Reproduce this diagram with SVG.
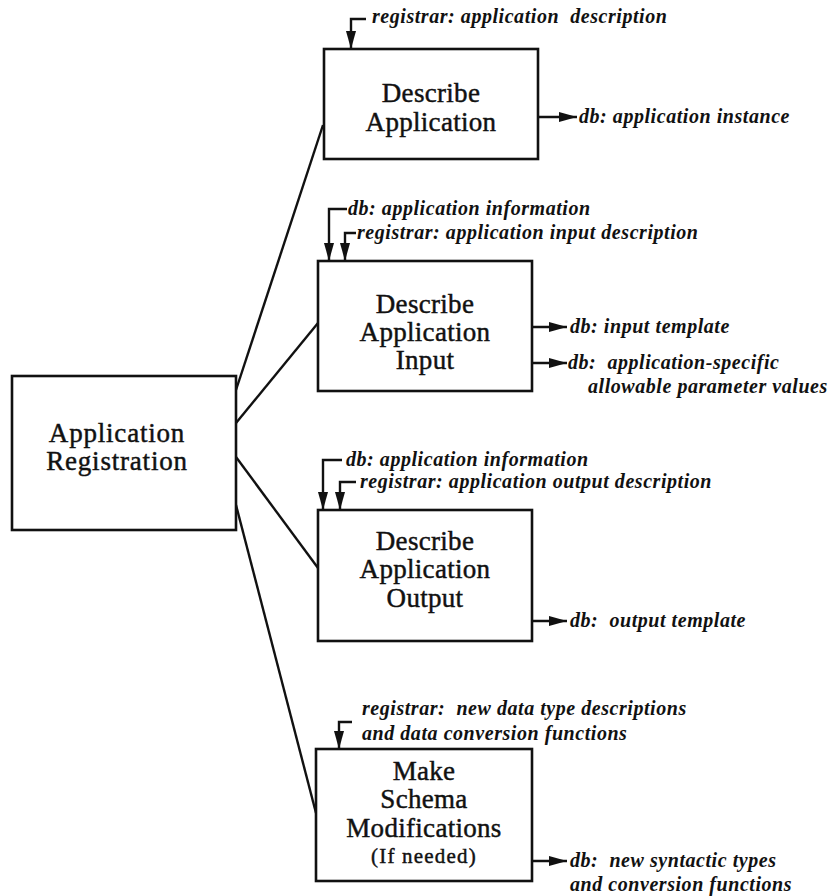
<svg xmlns="http://www.w3.org/2000/svg" width="835" height="896" viewBox="0 0 835 896">
  <style>
    .box { fill: #ffffff; stroke: #111111; stroke-width: 2.6; }
    .title { font-family: "Liberation Serif", "Times New Roman", serif; font-size: 27px; fill: #111111; stroke: #111111; stroke-width: 0.45; text-anchor: middle; letter-spacing: 0.3px; }
    .title.wide { letter-spacing: 0.8px; }
    .small { font-size: 21px; letter-spacing: 1.2px; }
    .lbl { font-family: "Liberation Serif", "Times New Roman", serif; font-style: italic; font-weight: bold; font-size: 20px; fill: #111111; letter-spacing: 0.55px; white-space: pre; }
    .wire { fill: none; stroke: #111111; stroke-width: 2.4; }
    .flow { fill: none; stroke: #111111; stroke-width: 2.4; marker-end: url(#ah); }
  </style>
  <defs>
    <marker id="ah" viewBox="0 0 18 10" refX="18" refY="5" markerWidth="18" markerHeight="10" markerUnits="userSpaceOnUse" orient="auto">
      <path d="M0,0 L18,5 L0,10 z" fill="#111111"/>
    </marker>
  </defs>
  <rect width="835" height="896" fill="#ffffff"/>

  <!-- links from the parent activity to each sub-activity -->
  <g id="connectors">
    <path class="wire" d="M236,390 L323,125"/>
    <path class="wire" d="M236,423 L318,323"/>
    <path class="wire" d="M236,457 L318,568"/>
    <path class="wire" d="M236,505 L316,813"/>
  </g>

  <g id="application-registration">
    <rect class="box" x="12" y="376" width="224" height="154"/>
    <text class="title wide" x="117" y="442">Application</text>
    <text class="title wide" x="117" y="470">Registration</text>
  </g>

  <g id="describe-application">
    <rect class="box" x="324" y="49" width="214" height="110"/>
    <text class="title" x="431" y="102">Describe</text>
    <text class="title" x="431" y="131">Application</text>
    <path class="flow" d="M366,19 H351 V49"/>
    <text class="lbl" x="372" y="23">registrar: application  description</text>
    <path class="flow" d="M538,117 H577"/>
    <text class="lbl" x="579" y="123">db: application instance</text>
  </g>

  <g id="describe-application-input">
    <rect class="box" x="318" y="261" width="214" height="130"/>
    <text class="title" x="425" y="313">Describe</text>
    <text class="title" x="425" y="341">Application</text>
    <text class="title" x="425" y="369">Input</text>
    <path class="flow" d="M347,209 H329 V261"/>
    <text class="lbl" x="348" y="215">db: application information</text>
    <path class="flow" d="M356,233 H345 V261"/>
    <text class="lbl" x="357" y="239">registrar: application input description</text>
    <path class="flow" d="M532,327 H567"/>
    <text class="lbl" x="570" y="333">db: input template</text>
    <path class="flow" d="M532,363 H567"/>
    <text class="lbl" x="568" y="369">db:  application-specific</text>
    <text class="lbl" x="588" y="393">allowable parameter values</text>
  </g>

  <g id="describe-application-output">
    <rect class="box" x="318" y="510" width="214" height="131"/>
    <text class="title" x="425" y="550">Describe</text>
    <text class="title" x="425" y="578">Application</text>
    <text class="title" x="425" y="607">Output</text>
    <path class="flow" d="M342,460 H323 V510"/>
    <text class="lbl" x="346" y="466">db: application information</text>
    <path class="flow" d="M356,482 H340 V510"/>
    <text class="lbl" x="360" y="488">registrar: application output description</text>
    <path class="flow" d="M532,621 H567"/>
    <text class="lbl" x="570" y="627">db:  output template</text>
  </g>

  <g id="make-schema-modifications">
    <rect class="box" x="316" y="749" width="216" height="132"/>
    <text class="title" x="424" y="780">Make</text>
    <text class="title" x="424" y="808">Schema</text>
    <text class="title" x="424" y="837">Modifications</text>
    <text class="title small" x="424" y="863">(If needed)</text>
    <path class="flow" d="M352,722 H339 V749"/>
    <text class="lbl" x="362" y="715">registrar:  new data type descriptions</text>
    <text class="lbl" x="362" y="740">and data conversion functions</text>
    <path class="flow" d="M532,861 H567"/>
    <text class="lbl" x="570" y="867">db:  new syntactic types</text>
    <text class="lbl" x="570" y="891">and conversion functions</text>
  </g>
</svg>
